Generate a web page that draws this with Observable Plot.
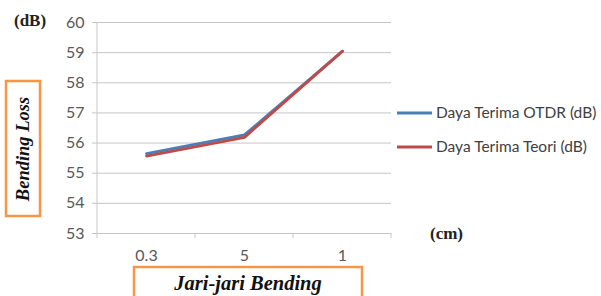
<!DOCTYPE html>
<html>
<head>
<meta charset="utf-8">
<script src="https://cdn.jsdelivr.net/npm/d3@7"></script>
<script src="https://cdn.jsdelivr.net/npm/@observablehq/plot@0.6"></script>
<style>
  html, body { margin: 0; padding: 0; background: #fff; }
  #chart { width: 601px; height: 296px; overflow: hidden; }
</style>
</head>
<body>
<div id="chart"></div>
<script>
const categories = ["0.3", "5", "1"];
const otdr = [55.65, 56.27, 59.05];
const teori = [55.57, 56.19, 59.05];
const yTicks = [53, 54, 55, 56, 57, 58, 59, 60];
const seriesNames = ["Daya Terima OTDR (dB)", "Daya Terima Teori (dB)"];
const seriesColors = ["#4A7EBB", "#BE4B48"];
const yUnit = "(dB)";
const xUnit = "(cm)";
const yTitle = "Bending Loss";
const xTitle = "Jari-jari Bending";

const data = categories.flatMap((c, i) => [
  {x: c, y: otdr[i], s: seriesNames[0]},
  {x: c, y: teori[i], s: seriesNames[1]}
]);

const sans = "Lato, 'Open Sans', sans-serif";
const plot = Plot.plot({
  width: 601,
  height: 296,
  marginLeft: 97,
  marginRight: 210,
  marginTop: 22,
  marginBottom: 63,
  style: {fontFamily: sans, fontSize: "16px", color: "#595959", background: "#fff"},
  x: {type: "point", domain: categories, padding: 0.5, label: null},
  y: {domain: [53, 60], ticks: yTicks, label: null},
  color: {domain: seriesNames, range: seriesColors},
  marks: [
    Plot.gridY(yTicks, {stroke: "#c6c6c6", strokeOpacity: 1, strokeWidth: 1}),
    Plot.axisY(yTicks, {tickSize: 5, tickPadding: 8, stroke: "#c6c6c6", fill: "#595959", fontSize: 16, label: null}),
    Plot.axisX({tickSize: 0, tickPadding: 16, fill: "#595959", fontSize: 16, label: null}),
    Plot.line(data, {x: "x", y: "y", z: "s", stroke: "s", strokeWidth: 2.8, strokeLinejoin: "miter"})
  ]
});

document.getElementById("chart").appendChild(plot);

const svg = d3.select(plot);
const xs = plot.scale("x");
const ys = plot.scale("y");
const step = xs.apply(categories[1]) - xs.apply(categories[0]);
const plotLeft = xs.apply(categories[0]) - step / 2;
const plotRight = xs.apply(categories[categories.length - 1]) + step / 2;
const plotTop = ys.apply(60), plotBottom = ys.apply(53);

// left axis line
svg.append("line").attr("x1", plotLeft).attr("x2", plotLeft).attr("y1", plotTop).attr("y2", plotBottom)
  .attr("stroke", "#c6c6c6");
// x boundary ticks
const bounds = [plotLeft, ...categories.slice(1).map(c => xs.apply(c) - step / 2), plotRight];
bounds.forEach(b => svg.append("line").attr("x1", b).attr("x2", b).attr("y1", plotBottom).attr("y2", plotBottom + 5)
  .attr("stroke", "#c6c6c6"));

// legend
seriesNames.forEach((n, i) => {
  const ly = 113 + i * 34;
  svg.append("line").attr("x1", plotRight + 6).attr("x2", plotRight + 41).attr("y1", ly).attr("y2", ly)
    .attr("stroke", seriesColors[i]).attr("stroke-width", 2.8);
  svg.append("text").attr("x", plotRight + 45).attr("y", ly).attr("dy", "0.35em")
    .attr("text-anchor", "start")
    .attr("font-family", sans).attr("font-size", 15.5).attr("fill", "#404040")
    .text(n);
});

const serif = "'Liberation Serif', 'DejaVu Serif', serif";
// unit labels
svg.append("text").attr("x", 14).attr("y", plotTop - 2).attr("dy", "0.35em").attr("text-anchor", "start")
  .attr("font-family", serif).attr("font-weight", "bold").attr("font-size", 17).attr("fill", "#222")
  .text(yUnit);
svg.append("text").attr("x", 430).attr("y", plotBottom).attr("dy", "0.35em").attr("text-anchor", "start")
  .attr("font-family", serif).attr("font-weight", "bold").attr("font-size", 17).attr("fill", "#222")
  .text(xUnit);

// y title box
svg.append("rect").attr("x", 6).attr("y", 81).attr("width", 34).attr("height", 135)
  .attr("fill", "none").attr("stroke", "#F79646").attr("stroke-width", 2.5);
svg.append("text").attr("transform", `translate(23,149) rotate(-90)`).attr("text-anchor", "middle").attr("dy", "0.35em")
  .attr("font-family", serif).attr("font-weight", "bold").attr("font-style", "italic").attr("font-size", 18.5).attr("fill", "#111")
  .text(yTitle);

// x title box
svg.append("rect").attr("x", 134).attr("y", 267).attr("width", 228).attr("height", 40)
  .attr("fill", "none").attr("stroke", "#F79646").attr("stroke-width", 2.5);
svg.append("text").attr("x", 248).attr("y", 283).attr("text-anchor", "middle").attr("dy", "0.35em")
  .attr("font-family", serif).attr("font-weight", "bold").attr("font-style", "italic").attr("font-size", 20.5).attr("fill", "#111")
  .text(xTitle);
</script>
</body>
</html>
